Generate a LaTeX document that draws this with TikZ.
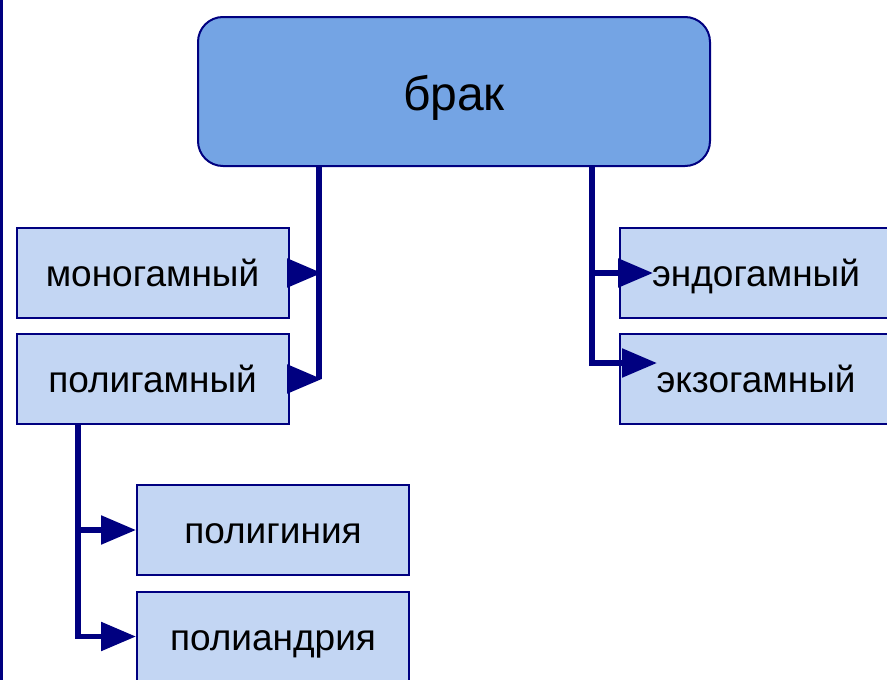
\documentclass[tikz,border=0pt]{standalone}
\usepackage{fontspec}
\setmainfont{Liberation Sans}
\usetikzlibrary{arrows.meta}
\definecolor{navy}{RGB}{0,0,128}
\definecolor{topfill}{RGB}{116,164,228}
\definecolor{boxfill}{RGB}{195,214,243}
\begin{document}
\begin{tikzpicture}[x=1pt,y=-1pt,
  smallbox/.style={draw=navy,line width=2pt,fill=boxfill,minimum width=272pt,minimum height=90pt,inner sep=0pt,
    font=\fontsize{37}{40}\selectfont,text height=27pt,text depth=0pt},
  conn/.style={draw=navy,line width=5.5pt},
  arr/.style={conn,-{Triangle[length=35pt,width=28pt]}}]
\useasboundingbox (0,0) rectangle (887,680);
\clip (0,0) rectangle (887,680);
\fill[white] (0,0) rectangle (887,680);
\draw[navy,line width=3pt] (1.5,0) -- (1.5,680);
\node[draw=navy,line width=2pt,fill=topfill,rounded corners=25pt,minimum width=512pt,minimum height=149pt,inner sep=0pt,
  font=\fontsize{48}{52}\selectfont,text height=37pt,text depth=0pt] (brak) at (454,91.5) {брак};
\node[smallbox] (mono) at (152.5,272.5) {моногамный};
\node[smallbox] (poly) at (152.5,378.5) {полигамный};
\node[smallbox] (endo) at (756,272.5) {эндогамный};
\node[smallbox] (exo) at (756,378.5) {экзогамный};
\node[smallbox] (gyn) at (273,530) {полигиния};
\node[smallbox] (andr) at (273,636.5) {полиандрия};
% left trunk
\coordinate (lt) at (319,379);
\coordinate (lm) at (322,273);
\coordinate (lp) at (322,379);
\draw[conn] (brak.south -| lt) -- (lt);
\draw[arr] (mono.east |- lm) -- (lm);
\draw[arr] (poly.east |- lp) -- (lp);
% right trunk
\coordinate (rt) at (592,363);
\coordinate (re) at (653,273);
\coordinate (rx) at (657,363);
\draw[arr] (brak.south -| rt) |- (rx);
\draw[arr] (rt |- re) -- (re);
% bottom trunk
\coordinate (bt) at (78,636.5);
\draw[arr] (poly.south -| bt) |- (andr.west);
\draw[arr] (bt |- gyn.west) -- (gyn.west);
\end{tikzpicture}
\end{document}
